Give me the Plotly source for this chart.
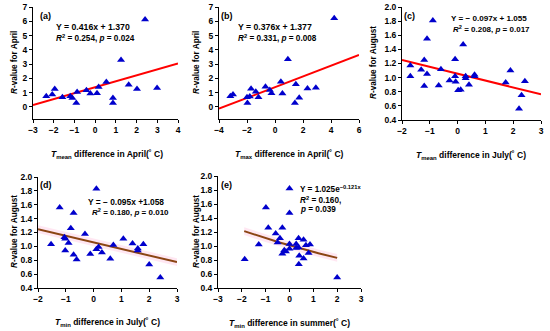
import numpy as np
import plotly.graph_objects as go

# ---------------- data ----------------
a_x = [-2.36, -2.07, -1.95, -1.58, -1.20, -1.10, -0.91, -0.87, -0.42, -0.23, 0.09, 0.17, 0.54, 0.86, 0.86, 1.25, 1.62, 2.02, 2.41, 2.99]
a_y = [0.74, 0.86, 1.25, 0.67, 0.74, 0.63, 0.28, 1.04, 1.16, 0.93, 0.95, 1.39, 1.74, 0.63, 0.28, 3.29, 1.55, 1.25, 6.13, 1.32]
a_fit = (0.416, 1.370)

b_x = [-3.19, -3.0, -2.0, -1.97, -1.8, -1.71, -1.37, -1.18, -0.68, -0.37, -0.25, 0.42, 0.53, 0.92, 1.42, 1.49, 1.73, 2.32, 2.92, 4.23]
b_y = [0.75, 0.87, 0.68, 0.28, 0.73, 1.27, 1.06, 0.68, 1.41, 1.18, 0.96, 1.76, 0.94, 3.34, 0.28, 1.58, 0.64, 1.29, 1.34, 6.21]
b_fit = (0.376, 1.377)

c_x = [-1.70, -1.70, -1.31, -1.20, -1.20, -1.10, -1.10, -0.89, -0.68, -0.60, -0.29, -0.09, -0.09, -0.07, 0.02, 0.11, 0.20, 0.29, 0.29, 0.41, 0.61, 0.61, 1.73, 1.90, 2.30, 2.21, 2.42]
c_y = [1.17, 1.02, 1.11, 1.25, 0.88, 1.55, 1.05, 1.81, 0.89, 1.12, 0.96, 1.26, 1.02, 0.94, 0.82, 0.83, 1.47, 1.02, 0.99, 0.90, 1.04, 1.02, 0.93, 1.10, 0.75, 0.56, 0.95]
c_fit = (-0.097, 1.055)

d_x = [-1.53, -1.22, -1.05, -1.02, -1.02, -0.90, -0.82, -0.72, -0.72, -0.61, -0.31, -0.12, 0.10, 0.10, 0.18, 0.30, 0.60, 0.71, 1.07, 1.40, 1.59, 1.59, 1.79, 2.00, 2.40]
d_y = [1.03, 1.56, 1.13, 1.11, 0.94, 1.05, 1.26, 1.48, 0.88, 0.81, 1.18, 0.89, 1.83, 0.96, 0.99, 0.91, 0.82, 1.02, 1.11, 1.04, 0.94, 0.97, 1.03, 0.74, 0.55]
d_fit = (-0.095, 1.058)

e_x = [-1.88, -1.29, -0.99, -0.89, -0.58, -0.50, -0.40, -0.30, -0.30, -0.22, -0.15, 0.0, 0.0, 0.0, 0.0, 0.28, 0.28, 0.38, 0.38, 0.41, 0.39, 0.59, 0.59, 0.69, 0.80, 0.86, 2.00]
e_y = [0.81, 1.02, 1.55, 1.26, 1.18, 1.05, 1.11, 1.26, 0.89, 0.94, 0.92, 1.82, 1.47, 1.03, 0.96, 1.03, 0.97, 1.11, 0.98, 0.86, 0.74, 1.09, 0.82, 1.01, 0.90, 1.02, 0.55]
e_curve = (1.008, -0.097)   # drawn exponential curve  y = a*exp(b*x)
e_curve_x = (-1.9, 2.0)

# tick values
a_xticks = [-3, -2, -1, 0, 1, 2, 3, 4]
b_xticks = [-4, -2, 0, 2, 4, 6]
cd_xticks = [-2, -1, 0, 1, 2, 3]
e_xticks = [-3, -2, -1, 0, 1, 2, 3]
ab_yticks = [0, 1, 2, 3, 4, 5, 6, 7]
cde_yticks = [0.4, 0.6, 0.8, 1.0, 1.2, 1.4, 1.6, 1.8, 2.0]

# ---------------- layout helpers ----------------
W, H = 550, 331
FONT = "Liberation Sans, Arial, sans-serif"
BLUE = "#0000CC"
RED = "#FF0000"
BROWN = "#8B4513"
PINK = "rgba(255,170,210,0.28)"
TXT = 8.7
TICK = 8.5
TITLE = 8.5
YTITLE = 8.2

def dx(px0, px1):
    return [px0 / W, px1 / W]

def dy(py_top, py_bot):
    return [1 - py_bot / H, 1 - py_top / H]

def num(v):
    s = ("%g" % v) if isinstance(v, int) else ("%.1f" % v)
    return "<b>" + s.replace("-", "−") + "</b>"

panels = [
    dict(k="", xs=a_x, ys=a_y, xd=(33, 178), yd=(7, 119), xr=[-3, 4], yr=[-0.85, 7], xt=a_xticks, yt=ab_yticks),
    dict(k="2", xs=b_x, ys=b_y, xd=(219, 359), yd=(7, 119), xr=[-4, 6], yr=[-0.85, 7], xt=b_xticks, yt=ab_yticks),
    dict(k="3", xs=c_x, ys=c_y, xd=(402, 541), yd=(7, 120), xr=[-2, 3], yr=[0.4, 2.0], xt=cd_xticks, yt=cde_yticks),
    dict(k="4", xs=d_x, ys=d_y, xd=(38, 177), yd=(177, 288), xr=[-2, 3], yr=[0.4, 2.0], xt=cd_xticks, yt=cde_yticks),
    dict(k="5", xs=e_x, ys=e_y, xd=(218, 361), yd=(176, 288), xr=[-3, 3], yr=[0.4, 2.0], xt=e_xticks, yt=cde_yticks),
]

fig = go.Figure()
layout = dict(
    width=W, height=H, margin=dict(l=0, r=0, t=0, b=0, pad=0, autoexpand=False),
    paper_bgcolor="white", plot_bgcolor="white", showlegend=False,
    font=dict(family=FONT, size=TXT, color="black"),
)

tickfont = dict(family=FONT, size=TICK, color="black")
common = dict(showgrid=False, zeroline=False, showline=True, linecolor="black", linewidth=1,
              ticks="outside", ticklen=3, tickcolor="black", tickfont=tickfont, fixedrange=True,
              automargin=False)
for p in panels:
    k = p["k"]
    layout["xaxis" + k] = dict(domain=dx(*p["xd"]), range=p["xr"], tickmode="array",
                               tickvals=p["xt"], ticktext=[num(v) for v in p["xt"]],
                               anchor="y" + k, **common)
    layout["yaxis" + k] = dict(domain=dy(*p["yd"]), range=p["yr"], tickmode="array",
                               tickvals=p["yt"], ticktext=[num(v) for v in p["yt"]],
                               anchor="x" + k, **common)

def add_band(xs, ys, k, half=0.055):
    xs = np.asarray(xs); ys = np.asarray(ys)
    fig.add_trace(go.Scatter(x=np.concatenate([xs, xs[::-1]]),
                             y=np.concatenate([ys + half, (ys - half)[::-1]]),
                             fill="toself", fillcolor=PINK, line=dict(width=0),
                             mode="lines", hoverinfo="skip", xaxis="x" + k, yaxis="y" + k))

lin_fits = [(a_fit, "", [-3, 4], RED), (b_fit, "2", [-4, 6], RED),
            (c_fit, "3", [-2, 3], RED), (d_fit, "4", [-2, 3], BROWN)]
for (m, c), k, xr, col in lin_fits:
    xs = np.linspace(xr[0], xr[1], 50)
    ys = m * xs + c
    if col == BROWN:
        add_band(xs, ys, k)
    fig.add_trace(go.Scatter(x=xs, y=ys, mode="lines", line=dict(color=col, width=2),
                             xaxis="x" + k, yaxis="y" + k, hoverinfo="skip"))

xs = np.linspace(e_curve_x[0], e_curve_x[1], 60)
ys = e_curve[0] * np.exp(e_curve[1] * xs)
add_band(xs, ys, "5")
fig.add_trace(go.Scatter(x=xs, y=ys, mode="lines", line=dict(color=BROWN, width=2),
                         xaxis="x5", yaxis="y5", hoverinfo="skip"))

for p in panels:
    k = p["k"]
    fig.add_trace(go.Scatter(x=p["xs"], y=p["ys"], mode="markers",
                             marker=dict(symbol="triangle-up", size=7, color=BLUE, line=dict(width=0)),
                             xaxis="x" + k, yaxis="y" + k))

ann = []
def txt(x, y, s, xanchor="left", angle=0, size=TXT):
    ann.append(dict(x=x / W, y=1 - y / H, xref="paper", yref="paper", text=s, showarrow=False,
                    xanchor=xanchor, yanchor="middle", textangle=angle,
                    font=dict(family=FONT, size=size, color="black")))

txt(38, 16, "<b>(a)</b>", size=9)
txt(219, 16, "<b>(b)</b>", size=9)
txt(402, 16, "<b>(c)</b>", size=9)
txt(38, 185, "<b>(d)</b>", size=9)
txt(219, 185, "<b>(e)</b>", size=9)

txt(54, 27, "<b>Y = 0.416x + 1.370</b>")
txt(54, 38, "<b><i>R</i><sup>2</sup> = 0.254, <i>p</i> = 0.024</b>", size=8.2)
txt(236, 27, "<b>Y = 0.376x + 1.377</b>")
txt(236, 38, "<b><i>R</i><sup>2</sup> = 0.331, <i>p</i> = 0.008</b>", size=8.2)
txt(449, 19, "<b>Y = − 0.097x + 1.055</b>", size=8.1)
txt(451, 29, "<b><i>R</i><sup>2</sup> = 0.208, <i>p</i> = 0.017</b>", size=8.0)
txt(86, 202, "<b>Y = − 0.095x +1.058</b>", size=8.4)
txt(90, 212, "<b><i>R</i><sup>2</sup> = 0.180, <i>p</i> = 0.010</b>", size=8.0)
txt(298, 189, "<b>Y = 1.025e<sup>−0.121x</sup></b>", size=8.2)
txt(298, 200, "<b><i>R</i><sup>2</sup> = 0.160,</b>", size=8.2)
txt(298, 209, "<b><i>p</i> = 0.039</b>", size=8.2)

txt(107, 154, "<b><i>T</i><sub>mean</sub> difference in April(˚ C)</b>", "center", size=TITLE)
txt(289, 154, "<b><i>T</i><sub>max</sub> difference in April(˚ C)</b>", "center", size=TITLE)
txt(471, 155, "<b><i>T</i><sub>mean</sub> difference in July(˚ C)</b>", "center", size=TITLE)
txt(107, 322, "<b><i>T</i><sub>min</sub> difference in July(˚ C)</b>", "center", size=TITLE)
txt(289, 323, "<b><i>T</i><sub>min</sub> difference in summer(˚ C)</b>", "center", size=TITLE)

txt(15, 63, "<b><i>R</i>-value for April</b>", "center", -90, size=YTITLE)
txt(197, 63, "<b><i>R</i>-value for April</b>", "center", -90, size=YTITLE)
txt(374, 63, "<b><i>R</i>-value for August</b>", "center", -90, size=YTITLE)
txt(14, 232, "<b><i>R</i>-value for August</b>", "center", -90, size=YTITLE)
txt(196, 232, "<b><i>R</i>-value for August</b>", "center", -90, size=YTITLE)

layout["annotations"] = ann
fig.update_layout(**layout)
fig.write_html("out.html", config={"displayModeBar": False},
               post_script="document.body.style.margin='0';document.body.style.padding='0';")
